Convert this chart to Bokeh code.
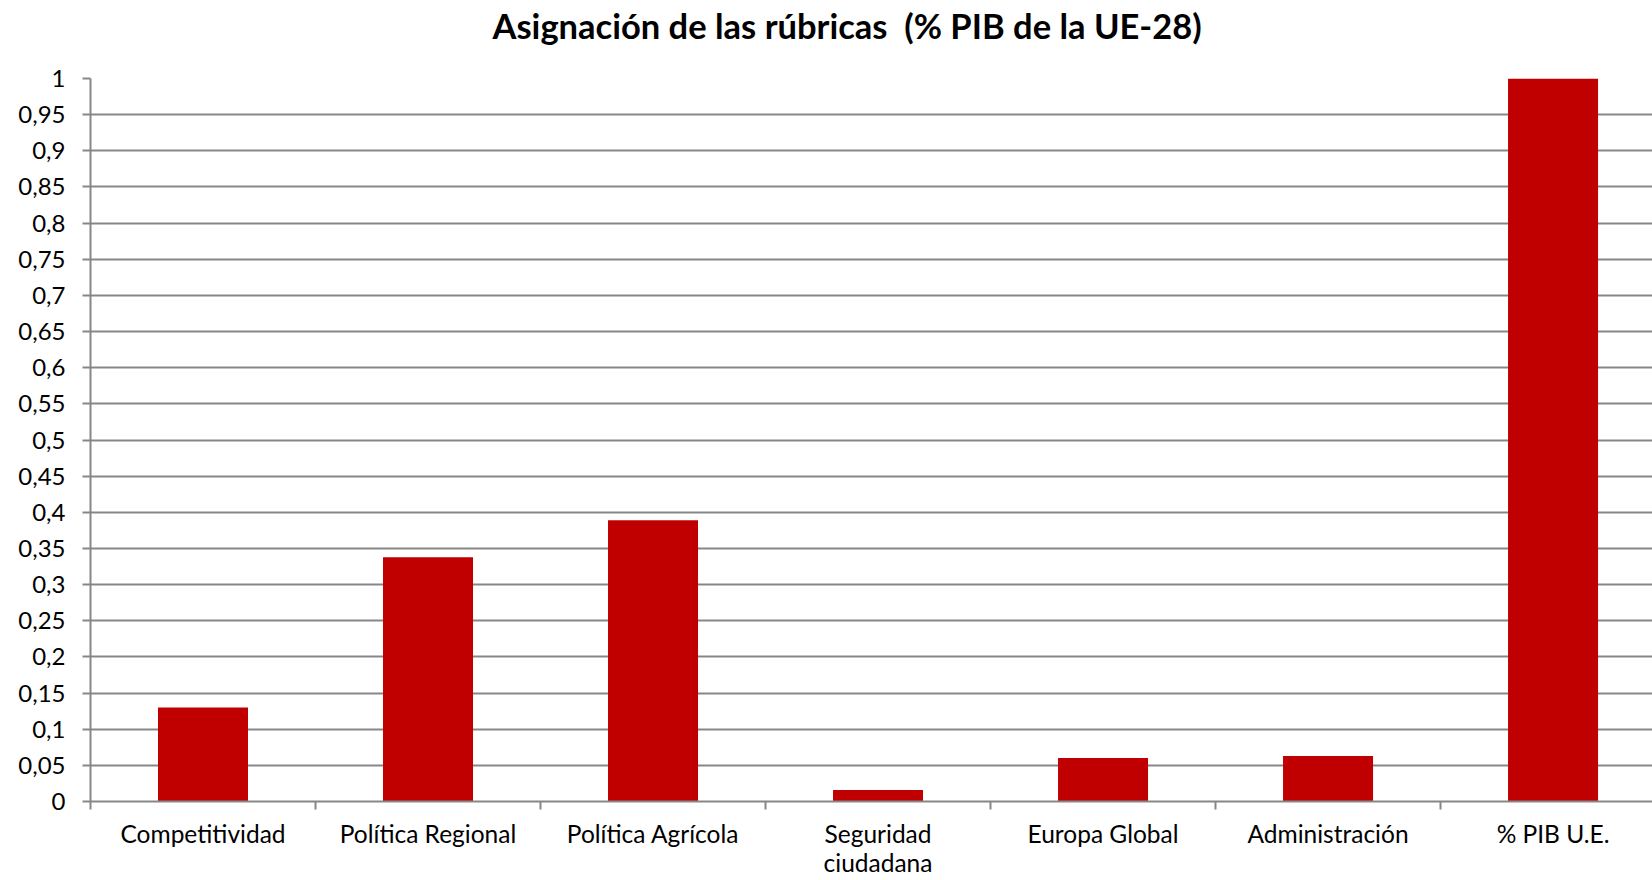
from bokeh.plotting import figure
from bokeh.models import FixedTicker, Range1d, Title
from bokeh.embed import file_html
from bokeh.resources import INLINE

categories = ["Competitividad", "Política Regional", "Política Agrícola",
              "Seguridad\nciudadana", "Europa Global", "Administración", "% PIB U.E."]
values = [0.13, 0.338, 0.389, 0.016, 0.06, 0.063, 1.0]
y_ticks = [round(i * 0.05, 2) for i in range(21)]
y_tick_labels = {t: (("%g" % t).replace(".", ",")) for t in y_ticks}
title_text = "Asignación de las rúbricas \u00a0(% PIB de la UE-28)"

FONT = "Lato"
GRID = "#878787"

positions = list(range(len(categories)))

p = figure(width=1652, height=880, output_backend="svg", toolbar_location=None,
           x_range=Range1d(-0.5, 6.442), y_range=Range1d(0, 1),
           min_border_left=90, min_border_right=0, min_border_top=78, min_border_bottom=78)
p.outline_line_color = None

p.vbar(x=positions, top=values, width=0.4, color="#C00000", line_color=None)

# spacer between frame and title
p.add_layout(Title(text=" ", text_font_size="17.5px"), "above")
p.title.text = title_text
p.title.text_font = FONT
p.title.text_font_size = "34.5px"
p.title.text_font_style = "bold"
p.title.align = "left"
p.title.offset = 402
p.title.standoff = 2
p.title.text_color = "#000000"

# y axis
p.yaxis.ticker = FixedTicker(ticks=y_ticks)
p.yaxis.major_label_overrides = y_tick_labels
p.yaxis.major_label_text_font = FONT
p.yaxis.major_label_text_font_size = "24px"
p.yaxis.major_label_text_color = "#000000"
p.yaxis.major_tick_out = 8
p.yaxis.major_tick_in = 0
p.yaxis.minor_tick_out = 0
p.yaxis.minor_tick_in = 0
p.yaxis.major_label_standoff = 17
p.yaxis.axis_line_color = GRID
p.yaxis.axis_line_width = 2
p.yaxis.major_tick_line_color = GRID
p.yaxis.major_tick_line_width = 2

# x axis: labels at category centres, ticks at boundaries
p.xaxis.ticker = FixedTicker(ticks=positions,
                             minor_ticks=[i - 0.5 for i in range(len(categories) + 1)])
p.xaxis.major_label_overrides = {i: c for i, c in enumerate(categories)}
p.xaxis.major_label_text_font = FONT
p.xaxis.major_label_text_font_size = "24.5px"
p.xaxis.major_label_text_line_height = 1.03
p.xaxis.major_label_text_color = "#000000"
p.xaxis.major_tick_out = 0
p.xaxis.major_tick_in = 0
p.xaxis.minor_tick_out = 8
p.xaxis.minor_tick_in = 0
p.xaxis.minor_tick_line_color = GRID
p.xaxis.minor_tick_line_width = 2
p.xaxis.major_label_standoff = 9
p.xaxis.axis_line_color = GRID
p.xaxis.axis_line_width = 2

p.xgrid.grid_line_color = None
p.ygrid.ticker = FixedTicker(ticks=y_ticks)
p.ygrid.grid_line_color = GRID
p.ygrid.grid_line_width = 2

open("out.html", "w").write(file_html(p, INLINE))
